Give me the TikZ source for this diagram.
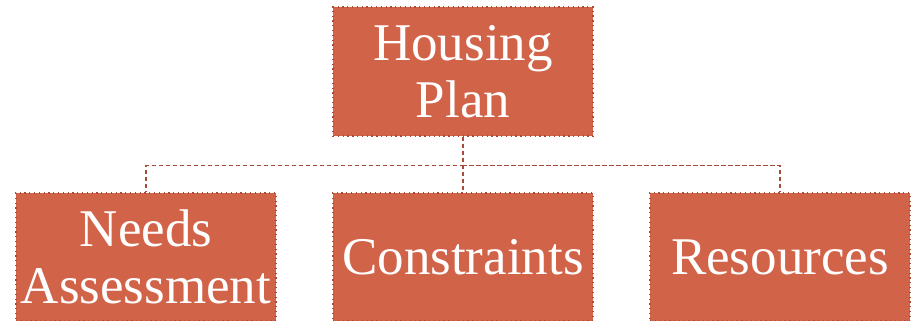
\documentclass[tikz,border=0pt]{standalone}
\usepackage{fontspec}
\setmainfont{Liberation Serif}
\definecolor{boxfill}{HTML}{D16349}
\definecolor{boxline}{HTML}{B04A36}
\definecolor{conn}{HTML}{A84A38}
\begin{document}
\begin{tikzpicture}[x=1pt,y=1pt,
  box/.style={draw=boxline, fill=boxfill, line width=1.1pt, dash pattern=on 1.3pt off 3.5pt,
    minimum width=260pt, minimum height=129pt, inner sep=0pt, align=center,
    text=white, font=\fontsize{53}{57}\selectfont},
  link/.style={draw=conn, line width=1.6pt, dash pattern=on 4.5pt off 2.5pt}]
\useasboundingbox (0,0) rectangle (914,-321);
\node[box] (top) at (463,-71.5) {Housing\\Plan};
\node[box, minimum height=128pt] (needs) at (146,-257) {Needs\\Assessment};
\node[box, minimum height=128pt] (cons) at (463,-257) {Constraints};
\node[box, minimum height=128pt] (res) at (780,-257) {Resources};
\draw[link] (top.south) -- ++(0,-29) -| (needs.north);
\draw[link] (top.south) -- (cons.north);
\draw[link] (top.south) -- ++(0,-29) -| (res.north);
\end{tikzpicture}
\end{document}
